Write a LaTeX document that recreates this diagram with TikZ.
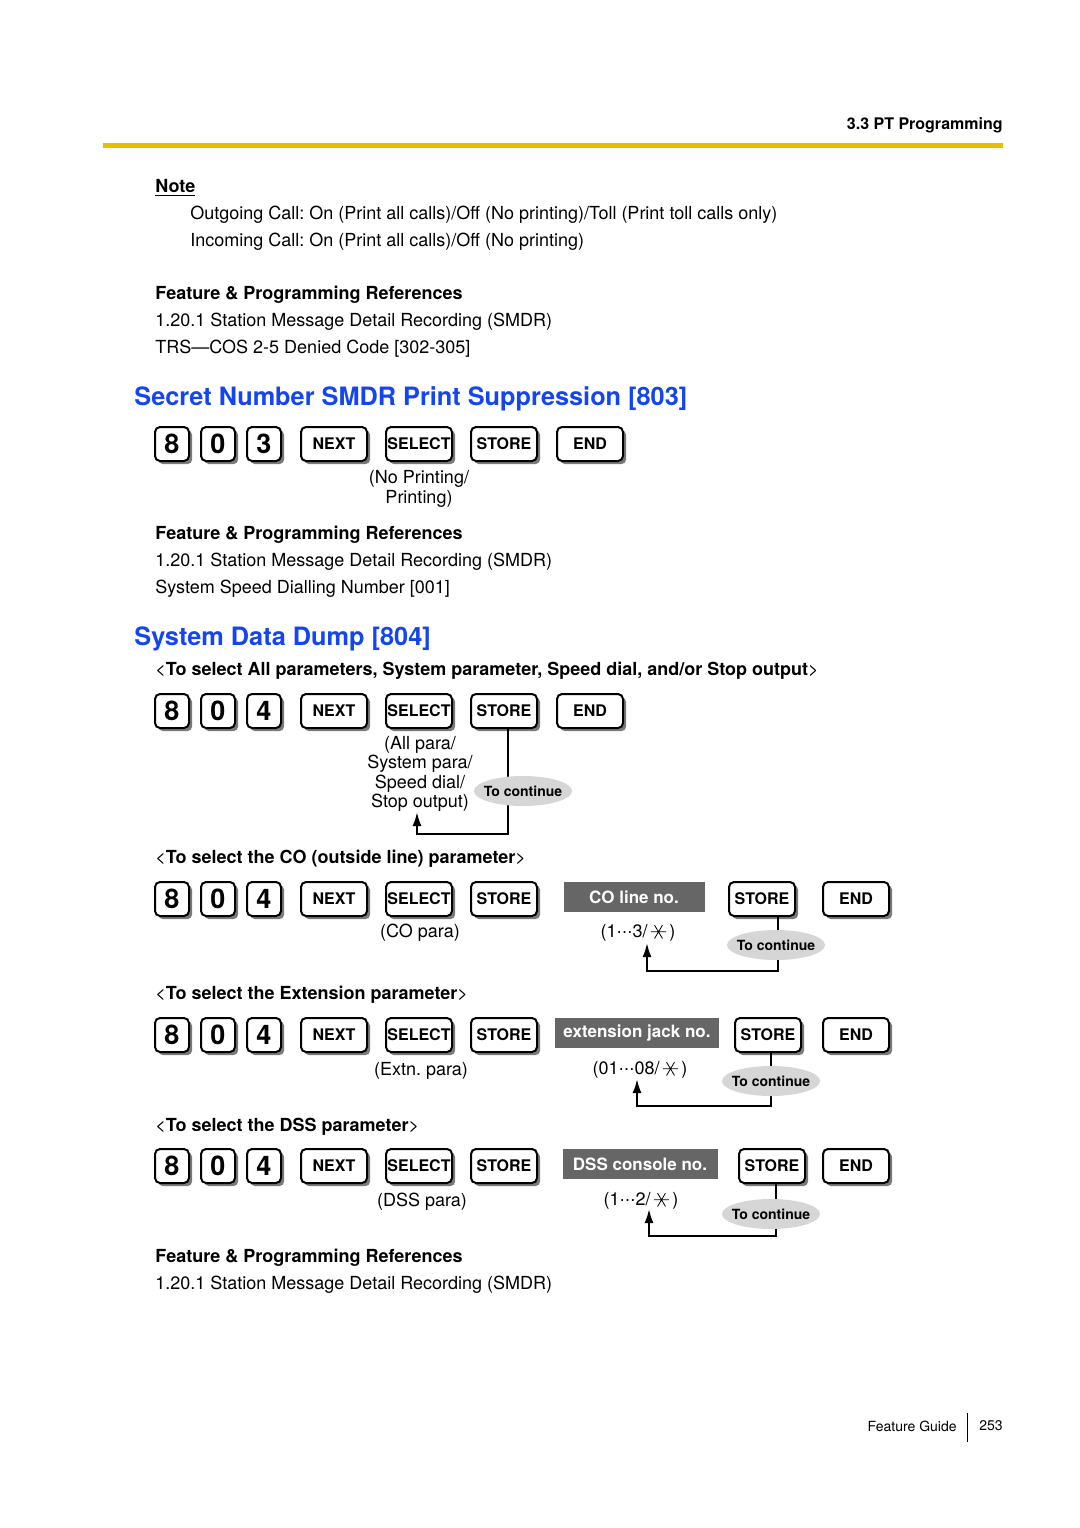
\documentclass[tikz,border=0pt]{standalone}
\usepackage{fontspec}
\setmainfont{TeX Gyre Heros}
\newfontfamily\symfont{DejaVu Sans}
\usetikzlibrary{shapes.geometric,shadows,arrows.meta}
\definecolor{myrulecolor}{HTML}{E6BE00}
\definecolor{mytitlecolor}{HTML}{1446F0}
\definecolor{mykeyshadow}{HTML}{7A7A7A}
\definecolor{myparamcolor}{HTML}{666666}
\definecolor{myovalcolor}{HTML}{D6D6D6}
\newcommand{\sixstar}{\tikz[baseline=-0.62ex]\draw[line width=0.4pt] (-0.42em,0pt)--(0.42em,0pt) (-0.22em,-0.37em)--(0.22em,0.37em) (-0.22em,0.37em)--(0.22em,-0.37em);}
\newcommand{\mdots}{{\symfont\fontsize{8}{8}\selectfont ⋯}}
\frenchspacing
\tikzset{
  txt/.style={anchor=west, inner sep=0pt, font=\fontsize{9}{9}\selectfont},
  headtxt/.style={txt, font=\fontsize{9}{9}\selectfont\bfseries},
  titletxt/.style={anchor=west, inner sep=0pt, text=mytitlecolor, font=\fontsize{12.65}{12.65}\selectfont\bfseries},
  keybox/.style={draw, line width=1pt, rounded corners=2.5pt, fill=white, minimum height=17pt, inner sep=0pt,
    drop shadow={shadow xshift=1.6pt, shadow yshift=-1.6pt, fill=mykeyshadow, opacity=1}},
  digitkey/.style={keybox, minimum width=17pt, font=\fontsize{13.5}{13.5}\selectfont\bfseries},
  wordkey/.style={keybox, minimum width=33pt, font=\fontsize{8}{8}\selectfont\bfseries},
  parambox/.style={fill=myparamcolor, text=white, minimum height=15pt, inner sep=0pt, font=\fontsize{8.5}{8.5}\selectfont\bfseries},
  contoval/.style={ellipse, fill=myovalcolor, minimum width=49pt, minimum height=15pt, inner xsep=-3.5pt, inner ysep=1pt, font=\fontsize{7}{7}\selectfont\bfseries},
  paratxt/.style={align=center, inner sep=0pt, font=\fontsize{9}{9.7}\selectfont},
  loopline/.style={line width=1pt, -{Latex[length=7pt,width=4.5pt]}}
}

\begin{document}
\begin{tikzpicture}[x=0.5pt, y=-0.5pt]%
\useasboundingbox (0,-2) rectangle (1080,1526);%
\node[anchor=east, inner sep=0pt, font=\fontsize{8}{8}\selectfont\bfseries] (hdr) at (1003,123) {3.3 PT Programming};%
\fill[myrulecolor] (103,141) rectangle (1003,146);%
\node[headtxt] (note) at (155,186) {\underline{Note}};%
\node[txt] (note1) at (190,213) {Outgoing Call: On (Print all calls)/Off (No printing)/Toll (Print toll calls only)};%
\node[txt] (note2) at (190,240) {Incoming Call: On (Print all calls)/Off (No printing)};%
\node[headtxt] (fpr1) at (155,293) {Feature \& Programming References};%
\node[txt] (fpr1a) at (155,320) {1.20.1 Station Message Detail Recording (SMDR)};%
\node[txt] (fpr1b) at (155,347) {TRS---COS 2-5 Denied Code [302-305]};%
%
\node[titletxt] (title803) at (134,397) {Secret Number SMDR Print Suppression [803]};%
\node[digitkey] (ka8) at (172,442) {8};%
\node[digitkey] (ka0) at (218,442) {0};%
\node[digitkey] (ka3) at (264,442) {3};%
\node[wordkey] (nxa) at (334,442) {NEXT};%
\node[wordkey] (sla) at (419,442) {SELECT};%
\node[wordkey] (sta) at (504,442) {STORE};%
\node[wordkey] (eda) at (590,442) {END};%
\node[paratxt] (paraa) at (419,487) {(No Printing/\\Printing)};%
\node[headtxt] (fpr2) at (155,533) {Feature \& Programming References};%
\node[txt] (fpr2a) at (155,560) {1.20.1 Station Message Detail Recording (SMDR)};%
\node[txt] (fpr2b) at (155,587) {System Speed Dialling Number [001]};%
%
\node[titletxt] (title804) at (134,637) {System Data Dump [804]};%
\node[headtxt] (selb) at (155,669) {\mdseries<\bfseries To select All parameters, System parameter, Speed dial, and/or Stop output\mdseries>};%
\node[digitkey] (kb8) at (172,709) {8};%
\node[digitkey] (kb0) at (218,709) {0};%
\node[digitkey] (kb4) at (264,709) {4};%
\node[wordkey] (nxb) at (334,709) {NEXT};%
\node[wordkey] (slb) at (419,709) {SELECT};%
\node[wordkey] (stb) at (504,709) {STORE};%
\node[wordkey] (edb) at (590,709) {END};%
\node[paratxt] (parab) at (420,772) {(All para/\\System para/\\Speed dial/\\Stop output)};%
\coordinate (tipb) at (417,810);%
\draw[loopline] ([xshift=2pt]stb.south) -- ++(0,105) -| (tipb);%
\node[contoval] (contb) at (523,789) {To continue};%
%
\node[headtxt] (selc) at (155,857) {\mdseries<\bfseries To select the CO (outside line) parameter\mdseries>};%
\node[digitkey] (kc8) at (172,897) {8};%
\node[digitkey] (kc0) at (218,897) {0};%
\node[digitkey] (kc4) at (264,897) {4};%
\node[wordkey] (nxc) at (334,897) {NEXT};%
\node[wordkey] (slc) at (419,897) {SELECT};%
\node[wordkey] (stc) at (504,897) {STORE};%
\node[parambox, minimum width=70.5pt] (coline) at (634,895) {CO line no.};%
\node[wordkey] (stc2) at (762,897) {STORE};%
\node[wordkey] (edc) at (856,897) {END};%
\node[paratxt] (parac) at (420,931) {(CO para)};%
\node[paratxt] (rangec) at (638,931) {(1\mdots3/\,\sixstar\,)};%
\coordinate (tipc) at (647,941);%
\draw[loopline] ([xshift=8pt]stc2.south) -- ++(0,54) -| (tipc);%
\node[contoval] (contc) at (776,943) {To continue};%
%
\node[headtxt] (seld) at (155,993) {\mdseries<\bfseries To select the Extension parameter\mdseries>};%
\node[digitkey] (kd8) at (172,1033) {8};%
\node[digitkey] (kd0) at (218,1033) {0};%
\node[digitkey] (kd4) at (264,1033) {4};%
\node[wordkey] (nxd) at (334,1033) {NEXT};%
\node[wordkey] (sld) at (419,1033) {SELECT};%
\node[wordkey] (std) at (504,1033) {STORE};%
\node[parambox, minimum width=82pt] (extjack) at (637,1031) {extension jack no.};%
\node[wordkey] (std2) at (768,1033) {STORE};%
\node[wordkey] (edd) at (856,1033) {END};%
\node[paratxt] (parad) at (421,1069) {(Extn. para)};%
\node[paratxt] (ranged) at (640,1068) {(01\mdots08/\,\sixstar\,)};%
\coordinate (tipd) at (637,1077);%
\draw[loopline] ([xshift=1.5pt]std2.south) -- ++(0,53) -| (tipd);%
\node[contoval] (contd) at (771,1079) {To continue};%
%
\node[headtxt] (sele) at (155,1125) {\mdseries<\bfseries To select the DSS parameter\mdseries>};%
\node[digitkey] (ke8) at (172,1164) {8};%
\node[digitkey] (ke0) at (218,1164) {0};%
\node[digitkey] (ke4) at (264,1164) {4};%
\node[wordkey] (nxe) at (334,1164) {NEXT};%
\node[wordkey] (sle) at (419,1164) {SELECT};%
\node[wordkey] (ste) at (504,1164) {STORE};%
\node[parambox, minimum width=77.5pt] (dsscons) at (640,1162) {DSS console no.};%
\node[wordkey] (ste2) at (772,1164) {STORE};%
\node[wordkey] (ede) at (856,1164) {END};%
\node[paratxt] (parae) at (422,1200) {(DSS para)};%
\node[paratxt] (rangee) at (641,1199) {(1\mdots2/\,\sixstar\,)};%
\coordinate (tipe) at (649,1207);%
\draw[loopline] ([xshift=2pt]ste2.south) -- ++(0,52) -| (tipe);%
\node[contoval] (conte) at (771,1212) {To continue};%
%
\node[headtxt] (fpr3) at (155,1256) {Feature \& Programming References};%
\node[txt] (fpr3a) at (155,1283) {1.20.1 Station Message Detail Recording (SMDR)};%
%
\node[anchor=east, inner sep=0pt, font=\fontsize{7}{7}\selectfont] (fguide) at (957,1424) {Feature Guide};%
\node[anchor=west, inner sep=0pt, font=\fontsize{7}{7}\selectfont] (pageno) at (979,1424) {253};%
\draw[line width=0.5pt] (967,1411) -- (967,1440);%
\end{tikzpicture}
\end{document}
